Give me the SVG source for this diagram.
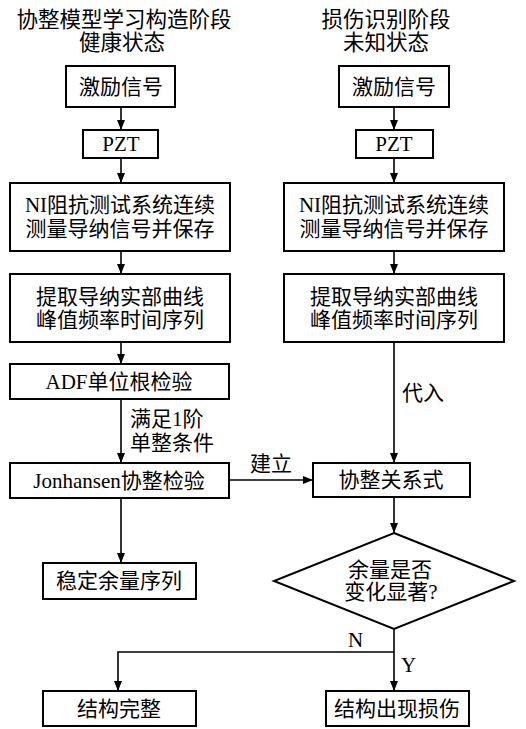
<svg xmlns="http://www.w3.org/2000/svg" width="526" height="729" viewBox="0 0 526 729">
<defs>
<marker id="arr" markerWidth="10" markerHeight="14" refX="10" refY="5" orient="auto" markerUnits="userSpaceOnUse" viewBox="0 0 10 10">
<path d="M0,1 L10,5 L0,9 Z" fill="#000"/>
</marker>
<style>
.box{fill:#fff;stroke:#000;stroke-width:2}
.t{font-family:"Liberation Serif","Noto Sans CJK SC",serif;font-size:21px;fill:#000;text-anchor:middle;dominant-baseline:central}
.h{font-size:21.5px}
.l{font-family:"Liberation Serif","Noto Sans CJK SC",serif;font-size:21px;fill:#000;dominant-baseline:central}
.c{fill:none;stroke:#000;stroke-width:1.6}
</style>
</defs>
<rect width="526" height="729" fill="#fff"/>
<g id="titles">
<text class="t h" x="124" y="20">协整模型学习构造阶段</text>
<text class="t h" x="122" y="43">健康状态</text>
<text class="t h" x="386" y="20">损伤识别阶段</text>
<text class="t h" x="386" y="43">未知状态</text>
</g>
<g id="connectors">
<line class="c" x1="121" y1="107" x2="121" y2="130" marker-end="url(#arr)"/>
<line class="c" x1="121" y1="158" x2="121" y2="183" marker-end="url(#arr)"/>
<line class="c" x1="121" y1="251" x2="121" y2="274" marker-end="url(#arr)"/>
<line class="c" x1="121" y1="342" x2="121" y2="364" marker-end="url(#arr)"/>
<line class="c" x1="121" y1="399" x2="121" y2="463" marker-end="url(#arr)"/>
<line class="c" x1="121" y1="498" x2="121" y2="563" marker-end="url(#arr)"/>
<line class="c" x1="229" y1="480" x2="313" y2="480" marker-end="url(#arr)"/>
<line class="c" x1="394" y1="107" x2="394" y2="130" marker-end="url(#arr)"/>
<line class="c" x1="394" y1="158" x2="394" y2="183" marker-end="url(#arr)"/>
<line class="c" x1="394" y1="251" x2="394" y2="274" marker-end="url(#arr)"/>
<line class="c" x1="394" y1="342" x2="394" y2="463" marker-end="url(#arr)"/>
<line class="c" x1="394" y1="497" x2="394" y2="533" marker-end="url(#arr)"/>
<line class="c" x1="394" y1="629" x2="394" y2="691" marker-end="url(#arr)"/>
<polyline class="c" points="394,652 118,652 118,691" marker-end="url(#arr)"/>
<text class="l" x="130" y="419">满足1阶</text>
<text class="l" x="130" y="443">单整条件</text>
<text class="l" x="250" y="464">建立</text>
<text class="l" x="402" y="393">代入</text>
<text class="l" x="348" y="640">N</text>
<text class="l" x="401" y="665">Y</text>
</g>
<g id="n1"><rect class="box" x="66" y="66" width="109" height="41"/><text class="t" x="121" y="87">激励信号</text></g>
<g id="n2"><rect class="box" x="83" y="130" width="75" height="28"/><text class="t" x="121" y="144">PZT</text></g>
<g id="n3"><rect class="box" x="10" y="183" width="220" height="68"/><text class="t" x="120" y="205">NI阻抗测试系统连续</text><text class="t" x="120" y="229">测量导纳信号并保存</text></g>
<g id="n4"><rect class="box" x="10" y="274" width="220" height="68"/><text class="t" x="120" y="297">提取导纳实部曲线</text><text class="t" x="120" y="320">峰值频率时间序列</text></g>
<g id="n5"><rect class="box" x="10" y="364" width="219" height="35"/><text class="t" x="119" y="382">ADF单位根检验</text></g>
<g id="n6"><rect class="box" x="10" y="463" width="219" height="35"/><text class="t" x="119" y="481">Jonhansen协整检验</text></g>
<g id="n7"><rect class="box" x="43" y="563" width="153" height="36"/><text class="t" x="119" y="581">稳定余量序列</text></g>
<g id="n8"><rect class="box" x="339" y="66" width="110" height="41"/><text class="t" x="394" y="87">激励信号</text></g>
<g id="n9"><rect class="box" x="356" y="130" width="77" height="28"/><text class="t" x="394" y="144">PZT</text></g>
<g id="n10"><rect class="box" x="284" y="183" width="220" height="68"/><text class="t" x="394" y="205">NI阻抗测试系统连续</text><text class="t" x="394" y="229">测量导纳信号并保存</text></g>
<g id="n11"><rect class="box" x="284" y="274" width="220" height="68"/><text class="t" x="394" y="297">提取导纳实部曲线</text><text class="t" x="394" y="320">峰值频率时间序列</text></g>
<g id="n12"><rect class="box" x="313" y="463" width="157" height="34"/><text class="t" x="391" y="480">协整关系式</text></g>
<g id="n13"><polygon class="box" points="394,533 514,581 394,629 274,581"/><text class="t" x="390" y="570">余量是否</text><text class="t" x="391" y="592">变化显著?</text></g>
<g id="n14"><rect class="box" x="43" y="691" width="153" height="35"/><text class="t" x="119" y="709">结构完整</text></g>
<g id="n15"><rect class="box" x="326" y="691" width="143" height="35"/><text class="t" x="397" y="709">结构出现损伤</text></g>
</svg>
